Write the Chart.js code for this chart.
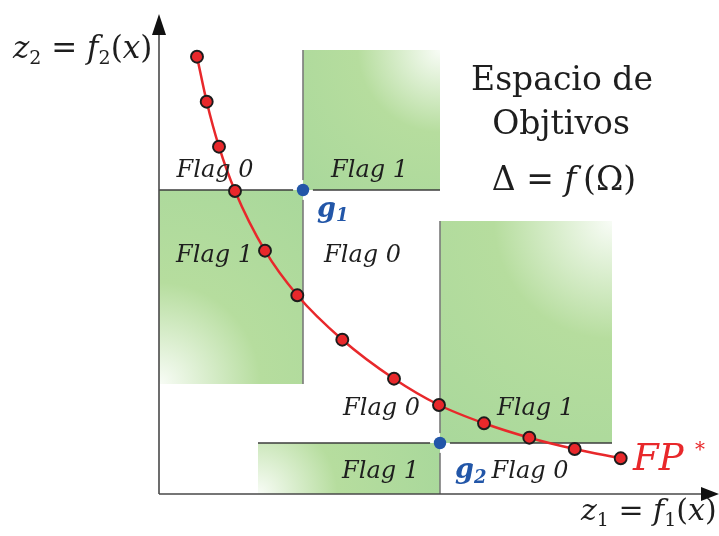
<!DOCTYPE html>
<html>
<head>
<meta charset="utf-8">
<script src="https://cdn.jsdelivr.net/npm/chart.js@4/dist/chart.umd.min.js"></script>
<style>
  html, body { margin: 0; padding: 0; background: #ffffff; }
  canvas { display: block; }
</style>
</head>
<body>
<canvas id="c" width="719" height="536"></canvas>
<script>
// Pareto front in objective space (z1, z2)
const frontZ1 = [38, 47.7, 60, 76, 106, 138.3, 183.3, 235, 280, 325, 370.3, 415.7, 461.7];
const frontZ2 = [437.3, 392.3, 347.3, 303, 243.3, 198.7, 154.3, 115.3, 89, 70.7, 56.3, 45, 35.7];

// goal points g1, g2
const goalZ1 = [144, 281];
const goalZ2 = [304, 51];
const goalNames = ['1', '2'];

// flag regions (z1 range, z2 range)
const regionZ1From = [144, 0, 281, 99];
const regionZ1To   = [281, 144, 453, 281];
const regionZ2From = [304, 110, 51, 0];
const regionZ2To   = [444, 304, 273, 51];

// flag labels
const flagText = ['Flag 0', 'Flag 1', 'Flag 1', 'Flag 0', 'Flag 0', 'Flag 1', 'Flag 1', 'Flag 0'];
const flagZ1 = [56, 210.5, 55.5, 203.5, 222.5, 376.5, 221.5, 371];
const flagZ2 = [317, 317, 232, 232, 79, 79, 16, 16];

// axis extents
const z1Max = 560;
const z2Max = 480;

// drawing styles
const regionFade = ['tr', 'bl', 'tr', 'bl'];
const regionEdges = [['left', 'bottom'], ['top', 'right'], ['left', 'bottom'], ['top', 'right']];
const SERIF = '"DejaVu Serif", "Liberation Serif", serif';
const RED = '#e8282b';
const BLUE = '#2256a8';

// draws a sequence of text runs starting at (x, baseline)
function drawRuns(ctx, x, y, runs, align) {
  let total = 0;
  runs.forEach(r => {
    ctx.font = (r.style || 'normal') + ' ' + (r.weight || 'normal') + ' ' + r.size + 'px ' + SERIF;
    r.w = ctx.measureText(r.t).width;
    total += r.w;
  });
  let cx = align === 'center' ? x - total / 2 : x;
  runs.forEach(r => {
    ctx.font = (r.style || 'normal') + ' ' + (r.weight || 'normal') + ' ' + r.size + 'px ' + SERIF;
    ctx.fillStyle = r.color || '#1e1e1e';
    ctx.textAlign = 'left';
    ctx.textBaseline = 'alphabetic';
    ctx.fillText(r.t, cx, y + (r.dy || 0));
    cx += r.w;
  });
}

const regionsAndAxes = {
  id: 'regionsAndAxes',
  beforeDatasetsDraw(chart) {
    const { ctx, scales: { x, y } } = chart;
    ctx.save();
    // shaded regions
    for (let i = 0; i < regionZ1From.length; i++) {
      const l = x.getPixelForValue(regionZ1From[i]);
      const r = x.getPixelForValue(regionZ1To[i]);
      const t = y.getPixelForValue(regionZ2To[i]);
      const b = y.getPixelForValue(regionZ2From[i]);
      const cx = regionFade[i] === 'tr' ? r : l;
      const cy = regionFade[i] === 'tr' ? t : b;
      const rad = Math.hypot(r - l, b - t);
      const g = ctx.createRadialGradient(cx, cy, 0, cx, cy, rad);
      g.addColorStop(0, '#f8fcf6');
      g.addColorStop(0.42, '#b6dd9e');
      g.addColorStop(1, '#a9d89b');
      ctx.fillStyle = g;
      ctx.fillRect(l, t, r - l, b - t);
    }
    // region edges, interrupted around goal points
    ctx.save();
    ctx.beginPath();
    ctx.rect(0, 0, chart.width, chart.height);
    for (let k = 0; k < goalZ1.length; k++) {
      const px = x.getPixelForValue(goalZ1[k]);
      const py = y.getPixelForValue(goalZ2[k]);
      ctx.moveTo(px + 10, py);
      ctx.arc(px, py, 10, 0, Math.PI * 2);
    }
    ctx.clip('evenodd');
    for (let i = 0; i < regionZ1From.length; i++) {
      const l = x.getPixelForValue(regionZ1From[i]);
      const r = x.getPixelForValue(regionZ1To[i]);
      const t = y.getPixelForValue(regionZ2To[i]);
      const b = y.getPixelForValue(regionZ2From[i]);
      regionEdges[i].forEach(side => {
        ctx.beginPath();
        if (side === 'left' || side === 'right') {
          const ex = side === 'left' ? l : r;
          ctx.strokeStyle = '#7a7a7a';
          ctx.lineWidth = 1.6;
          ctx.moveTo(ex, t); ctx.lineTo(ex, b);
        } else {
          const ey = side === 'top' ? t : b;
          ctx.strokeStyle = '#3c3c3c';
          ctx.lineWidth = 1.6;
          ctx.moveTo(l, ey); ctx.lineTo(r, ey);
        }
        ctx.stroke();
      });
    }
    ctx.restore();

    // axes with arrow heads
    const x0 = x.getPixelForValue(0), y0 = y.getPixelForValue(0);
    const xEnd = x.getPixelForValue(z1Max), yEnd = y.getPixelForValue(z2Max);
    ctx.strokeStyle = '#4a4a4a';
    ctx.fillStyle = '#111111';
    ctx.lineWidth = 1.6;
    ctx.beginPath();
    ctx.moveTo(x0, y0); ctx.lineTo(x0, yEnd + 18);
    ctx.moveTo(x0, y0); ctx.lineTo(xEnd - 16, y0);
    ctx.stroke();
    ctx.beginPath();
    ctx.moveTo(x0, yEnd); ctx.lineTo(x0 - 7, yEnd + 21); ctx.lineTo(x0 + 7, yEnd + 21); ctx.closePath();
    ctx.fill();
    ctx.beginPath();
    ctx.moveTo(xEnd, y0); ctx.lineTo(xEnd - 18, y0 - 7); ctx.lineTo(xEnd - 18, y0 + 7); ctx.closePath();
    ctx.fill();
    ctx.restore();
  },
  afterDatasetsDraw(chart) {
    const { ctx, scales: { x, y } } = chart;
    const X = v => x.getPixelForValue(v);
    const Y = v => y.getPixelForValue(v);
    ctx.save();
    // flag labels
    for (let i = 0; i < flagText.length; i++) {
      drawRuns(ctx, X(flagZ1[i]), Y(flagZ2[i]), [{ t: flagText[i], style: 'italic', size: 24 }], 'center');
    }
    // goal names
    drawRuns(ctx, X(goalZ1[0]) + 14, Y(goalZ2[0]) + 27, [
      { t: 'g', style: 'italic', weight: 'bold', size: 27, color: BLUE },
      { t: goalNames[0], style: 'italic', weight: 'bold', size: 18, dy: 4, color: BLUE }
    ]);
    drawRuns(ctx, X(goalZ1[1]) + 15, Y(goalZ2[1]) + 35, [
      { t: 'g', style: 'italic', weight: 'bold', size: 27, color: BLUE },
      { t: goalNames[1], style: 'italic', weight: 'bold', size: 18, dy: 5, color: BLUE }
    ]);
    // front label
    drawRuns(ctx, X(474), Y(24), [{ t: 'FP', style: 'italic', size: 37, color: RED }]);
    drawRuns(ctx, X(536), Y(38), [{ t: '*', size: 20, color: RED }]);
    // space title
    drawRuns(ctx, X(403), Y(404), [{ t: 'Espacio de', size: 33 }], 'center');
    drawRuns(ctx, X(402), Y(360), [{ t: 'Objtivos', size: 33 }], 'center');
    drawRuns(ctx, X(405), Y(304), [
      { t: 'Δ', size: 33 }, { t: ' = ', size: 33 }, { t: 'f', style: 'italic', size: 33 },
      { t: '\u2009(', size: 33 }, { t: 'Ω', size: 33 }, { t: ')', size: 33 }
    ], 'center');
    // axis titles
    drawRuns(ctx, X(-146), Y(436), [
      { t: 'z', style: 'italic', size: 31 }, { t: '2', size: 19, dy: 6 },
      { t: ' = ', size: 31 }, { t: 'f', style: 'italic', size: 31 }, { t: '2', size: 19, dy: 6 },
      { t: '(', size: 31 }, { t: 'x', style: 'italic', size: 31 }, { t: ')', size: 31 }
    ]);
    drawRuns(ctx, X(422), Y(-26), [
      { t: 'z', style: 'italic', size: 30 }, { t: '1', size: 19, dy: 6 },
      { t: ' = ', size: 30 }, { t: 'f', style: 'italic', size: 30 }, { t: '1', size: 19, dy: 6 },
      { t: '(', size: 30 }, { t: 'x', style: 'italic', size: 30 }, { t: ')', size: 30 }
    ]);
    ctx.restore();
  }
};

const frontData = frontZ1.map((v, i) => ({ x: v, y: frontZ2[i] }));
const goalData = goalZ1.map((v, i) => ({ x: v, y: goalZ2[i] }));

new Chart(document.getElementById('c'), {
  type: 'scatter',
  data: {
    datasets: [
      {
        label: 'FP*',
        data: frontData,
        showLine: true,
        cubicInterpolationMode: 'monotone',
        borderColor: RED,
        borderWidth: 2.5,
        pointRadius: 6,
        pointBackgroundColor: RED,
        pointBorderColor: '#1c1c1c',
        pointBorderWidth: 1.9,
        clip: false
      },
      {
        label: 'g',
        data: goalData,
        pointRadius: 6.2,
        pointBackgroundColor: BLUE,
        pointBorderColor: BLUE,
        pointBorderWidth: 0,
        clip: false
      }
    ]
  },
  options: {
    responsive: false,
    devicePixelRatio: 1,
    animation: false,
    events: [],
    layout: { autoPadding: false, padding: { left: 159, right: 0, top: 14, bottom: 42 } },
    plugins: { legend: { display: false }, tooltip: { enabled: false } },
    scales: {
      x: { type: 'linear', min: 0, max: z1Max, display: false },
      y: { type: 'linear', min: 0, max: z2Max, display: false }
    }
  },
  plugins: [regionsAndAxes]
});
</script>
</body>
</html>
